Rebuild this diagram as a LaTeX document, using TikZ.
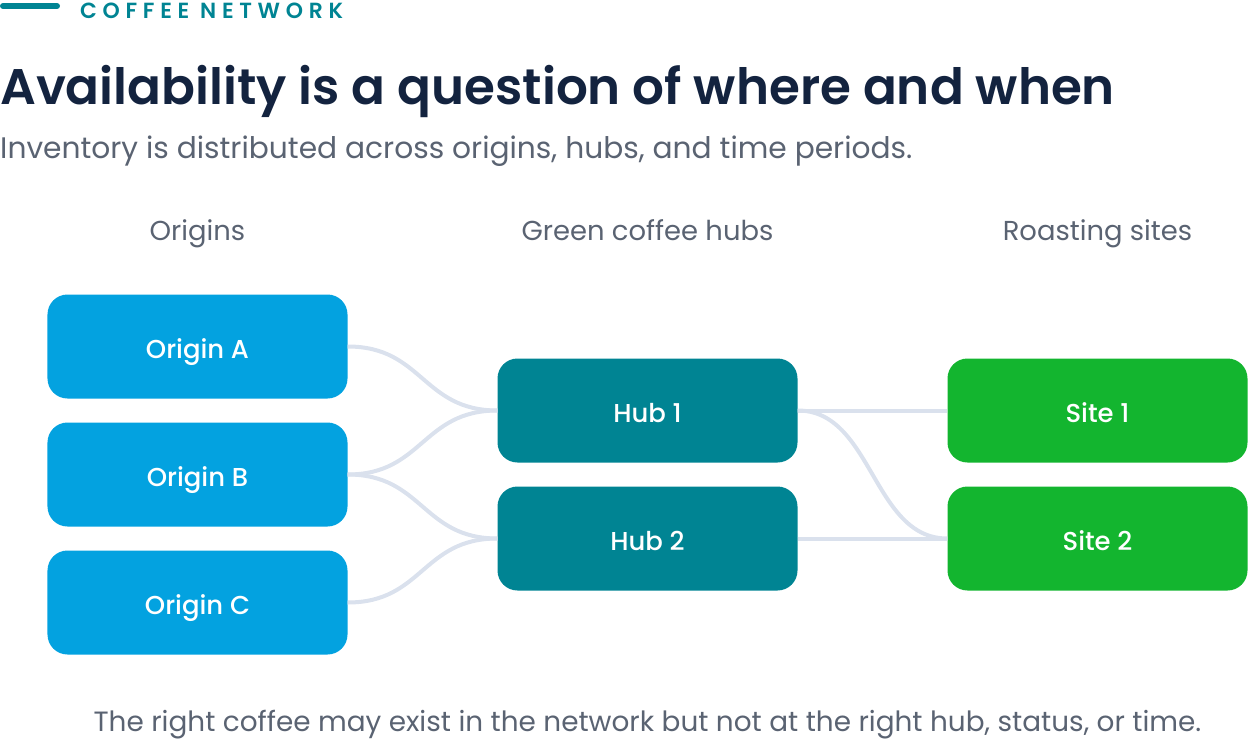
\documentclass[tikz,border=0pt]{standalone}
\usepackage{fontspec}
\setmainfont{Poppins Regular}
\newfontfamily\popsemi{Poppins SemiBold}
\newfontfamily\popmed{Poppins Medium}
\newfontfamily\popspaced[LetterSpace=26]{Poppins SemiBold}
\definecolor{origincol}{HTML}{03A2E0}
\definecolor{hubcol}{HTML}{008493}
\definecolor{sitecol}{HTML}{13B52F}
\definecolor{titlecol}{HTML}{13233F}
\definecolor{greycol}{HTML}{5A6372}
\definecolor{linkcol}{HTML}{DAE1ED}
\definecolor{tealcol}{HTML}{008493}
\begin{document}
\begin{tikzpicture}[x=1bp,y=-1bp,
  box/.style={rounded corners=20bp,minimum width=300bp,minimum height=104bp,inner sep=0pt,text=white,text height=24bp,text depth=0bp,font=\popmed\fontsize{26}{30}\selectfont},
  originbox/.style={box,fill=origincol},
  hubbox/.style={box,fill=hubcol},
  sitebox/.style={box,fill=sitecol},
  colhead/.style={text=greycol,font=\fontsize{27.5}{32}\selectfont,inner sep=0pt,anchor=base},
  link/.style={draw=linkcol,line width=4bp}
]
\useasboundingbox (0,0) rectangle (1250,741);
\draw[tealcol,line width=6bp,line cap=round] (3,6) -- (57,6);
\node[anchor=base west,text=tealcol,font=\popspaced\fontsize{22}{26}\selectfont,inner sep=0pt] (kicker) at (80,19) {COFFEE NETWORK};
\node[anchor=base west,text=titlecol,font=\popsemi\fontsize{50.2}{60}\selectfont,inner sep=0pt] (title) at (0,105) {Availability is a question of where and when};
\node[anchor=base west,text=greycol,font=\fontsize{29.8}{34}\selectfont,inner sep=0pt] (sub) at (0,158) {Inventory is distributed across origins, hubs, and time periods.};
\node[colhead] (h1) at (197.5,240) {Origins};
\node[colhead] (h2) at (647.5,240) {Green coffee hubs};
\node[colhead] (h3) at (1097.5,240) {Roasting sites};
\node[originbox] (oa) at (197.5,346.5) {Origin A};
\node[originbox] (ob) at (197.5,474.5) {Origin B};
\node[originbox] (oc) at (197.5,602.5) {Origin C};
\node[hubbox] (hub1) at (647.5,410.5) {Hub 1};
\node[hubbox] (hub2) at (647.5,538.5) {Hub 2};
\node[sitebox] (s1) at (1097.5,410.5) {Site 1};
\node[sitebox] (s2) at (1097.5,538.5) {Site 2};
\draw[link] (oa.east) .. controls ++(75,0) and ([xshift=-75bp]hub1.west) .. (hub1.west);
\draw[link] (ob.east) .. controls ++(75,0) and ([xshift=-75bp]hub1.west) .. (hub1.west);
\draw[link] (ob.east) .. controls ++(75,0) and ([xshift=-75bp]hub2.west) .. (hub2.west);
\draw[link] (oc.east) .. controls ++(75,0) and ([xshift=-75bp]hub2.west) .. (hub2.west);
\draw[link] (hub1.east) -- (s1.west);
\draw[link] (hub1.east) .. controls ++(75,0) and ([xshift=-75bp]s2.west) .. (s2.west);
\draw[link] (hub2.east) -- (s2.west);
\node[anchor=base,text=greycol,font=\fontsize{28}{32}\selectfont,inner sep=0pt] (foot) at (647.5,731) {The right coffee may exist in the network but not at the right hub, status, or time.};
\end{tikzpicture}
\end{document}
